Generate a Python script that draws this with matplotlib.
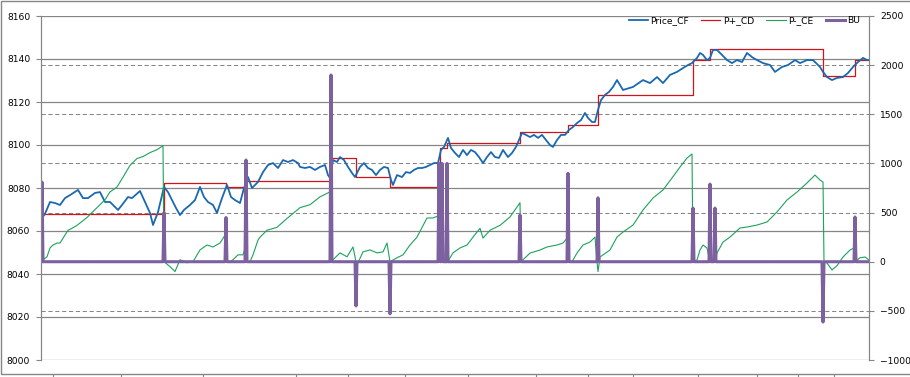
import numpy as np
import matplotlib.pyplot as plt
from matplotlib.patches import Rectangle

# bar index along the x axis
price_x = [0, 1, 4, 9, 14, 19, 24, 29, 37, 42, 47, 54, 59, 64, 69, 77, 81, 87, 91, 99,
           104, 109, 112, 117, 123, 127, 131, 135, 139, 143, 149, 154, 159, 163, 167, 172,
           176, 181, 186, 190, 194, 199, 203, 207, 211, 217, 222, 227, 232, 237, 242, 247,
           252, 257, 259, 264, 269, 274, 279, 284, 287, 289, 292, 296, 299, 303, 307, 311,
           314, 319, 323, 327, 331, 335, 339, 343, 347, 350, 352, 356, 361, 365, 369, 373,
           377, 381, 385, 389, 393, 397, 400, 403, 407, 410, 414, 418, 422, 426, 430, 434,
           438, 442, 446, 450, 454, 458, 462, 467, 471, 475, 478, 481, 485, 489, 493, 497,
           501, 505, 509, 512, 516, 520, 524, 528, 532, 536, 540, 544, 547, 551, 554, 557,
           560, 564, 568, 572, 576, 582, 592, 602, 609, 616, 622, 629, 636, 642, 647, 651,
           656, 659, 662, 666, 669, 672, 676, 681, 686, 691, 696, 701, 706, 711, 716, 722,
           729, 734, 741, 747, 754, 759, 766, 772, 779, 782, 786, 791, 796, 802, 807, 812,
           817, 822, 826, 828]
price_cf = [8058.1, 8066.0, 8068.0, 8073.5, 8073.0, 8072.1, 8075.3, 8076.7, 8079.1, 8075.3,
            8075.3, 8077.7, 8078.1, 8073.5, 8073.5, 8069.8, 8072.1, 8075.8, 8075.3, 8078.6,
            8073.5, 8068.4, 8062.8, 8068.8, 8080.5, 8078.1, 8074.4, 8070.7, 8067.4, 8069.8,
            8072.1, 8074.4, 8080.5, 8075.8, 8073.5, 8072.1, 8068.4, 8075.3, 8081.4, 8075.8,
            8074.4, 8073.0, 8080.0, 8085.1, 8080.0, 8082.8, 8087.4, 8090.7, 8091.6, 8089.3,
            8093.0, 8092.1, 8093.0, 8091.6, 8089.8, 8089.3, 8089.8, 8088.4, 8089.8, 8090.7,
            8086.0, 8084.7, 8093.0, 8092.1, 8094.4, 8093.0, 8089.8, 8087.0, 8085.1, 8089.8,
            8091.6, 8089.3, 8088.4, 8086.0, 8088.4, 8089.8, 8089.3, 8083.7, 8081.4, 8086.0,
            8085.1, 8087.4, 8087.0, 8088.4, 8089.3, 8089.3, 8089.8, 8090.7, 8091.6, 8091.6,
            8097.7, 8099.1, 8103.3, 8098.6, 8096.3, 8094.4, 8097.7, 8095.3, 8097.7, 8096.7,
            8094.4, 8091.6, 8094.4, 8096.7, 8094.4, 8094.0, 8097.7, 8094.4, 8096.3, 8099.1,
            8102.3, 8105.6, 8104.7, 8103.7, 8104.7, 8103.3, 8104.7, 8102.3, 8100.0, 8099.1,
            8102.3, 8104.7, 8104.7, 8107.0, 8108.4, 8110.2, 8111.6, 8114.9, 8112.6, 8110.7,
            8110.7, 8116.3, 8120.9, 8123.3, 8124.7, 8127.0, 8130.2, 8125.6, 8127.0, 8130.2,
            8128.8, 8131.6, 8128.8, 8132.6, 8134.0, 8135.8, 8137.2, 8138.1, 8140.5, 8142.8,
            8141.9, 8139.5, 8140.5, 8144.2, 8144.2, 8141.9, 8139.5, 8138.1, 8139.5, 8138.6,
            8142.8, 8140.9, 8139.5, 8138.1, 8137.2, 8134.0, 8136.3, 8137.2, 8139.5, 8138.1,
            8139.5, 8139.5, 8136.3, 8134.0, 8131.6, 8130.2, 8131.2, 8131.6, 8133.5, 8136.3,
            8138.6, 8140.5, 8139.5, 8139.5]

# P+_CD step levels (level holds from each bar until the next)
cd_x = [2, 123, 185, 205, 290, 315, 349, 399, 406, 479, 527, 557, 652, 669, 782, 814, 828]
p_plus_cd = [8068.0, 8082.3, 8080.5, 8083.3, 8094.0, 8085.1, 8080.5, 8098.6, 8101.0,
             8106.0, 8109.3, 8123.3, 8139.5, 8144.7, 8132.1, 8139.5, 8139.5]

ce_x = [0, 2, 6, 9, 12, 16, 19, 24, 27, 31, 36, 41, 46, 52, 59, 64, 69, 76, 82, 89, 96,
        102, 109, 116, 122, 123, 129, 134, 139, 146, 152, 159, 166, 172, 179, 184, 185,
        189, 192, 197, 202, 205, 206, 209, 212, 217, 219, 226, 236, 246, 259, 269, 279,
        289, 290, 292, 299, 306, 312, 315, 317, 322, 329, 336, 342, 346, 349, 356, 362,
        369, 376, 386, 392, 397, 399, 400, 406, 412, 419, 426, 432, 439, 442, 449, 459,
        469, 476, 479, 480, 489, 499, 506, 516, 522, 526, 527, 531, 536, 542, 549, 554,
        556, 557, 559, 569, 576, 582, 592, 602, 612, 622, 631, 639, 646, 651, 652, 656,
        659, 662, 666, 668, 669, 671, 674, 676, 682, 689, 699, 706, 716, 726, 736, 746,
        756, 766, 774, 779, 782, 783, 786, 791, 796, 802, 809, 813, 814, 819, 824, 828]
p_minus_ce = [0, 20, 50, 140, 170, 190, 190, 270, 320, 340, 370, 410, 450, 510, 580, 630,
              710, 760, 860, 980, 1050, 1070, 1110, 1140, 1180, 0, -50, -100, 20, -10, 0,
              120, 170, 150, 190, 270, 0, 0, 20, 70, 70, 170, 0, 0, 70, 220, 250, 320, 350,
              440, 550, 580, 660, 710, 0, 20, 90, 50, 150, 0, -10, 100, 120, 90, 100, 190,
              0, 40, 70, 170, 250, 445, 445, 465, 465, 0, -10, 90, 140, 170, 250, 340, 240,
              320, 370, 455, 557, 600, 0, 88, 119, 150, 170, 190, 240, 0, 0, 88, 170, 200,
              250, 0, -100, 48, 119, 251, 302, 373, 526, 648, 730, 852, 963, 1055, 1096, 0,
              17, 119, 170, 139, 48, 0, 17, 0, 88, 200, 251, 343, 353, 373, 404, 506, 628,
              709, 801, 882, 831, 811, 0, -13, -84, -40, 48, 119, 139, 0, 40, 48, 17]

# BU: zero except on these bars
bu_bars = [1, 123, 185, 205, 290, 315, 349, 398, 401, 406, 479, 527, 557, 652, 669, 674, 782, 814]
bu_vals = [810, 500, 450, 1035, 1900, -450, -530, 1000, 1000, 1000, 475, 900, 650, 546,
           790, 546, -614, 455]

n_bars = 829
date_ticks = [12, 80, 162, 255, 307, 364, 427, 495, 547, 592, 657, 716, 757, 793]

left_ticks = np.arange(8000, 8161, 20)
right_ticks = np.arange(-1000, 2501, 500)

c_price = "#1a69b0"
c_cd = "#d0141c"
c_ce = "#1ba35a"
c_bu = "#7d619f"
c_grid = "#868686"

plt.rcParams["font.family"] = ["DejaVu Sans"]
fs = 6.6

W, H = 910, 377
fig = plt.figure(figsize=(W / 100, H / 100), dpi=100)
ax = fig.add_axes([41 / W, (H - 360) / H, (869 - 41) / W, (360 - 16) / H])
ax2 = ax.twinx()

ax.set_xlim(0, n_bars - 1)
ax.set_ylim(8000, 8160)
ax2.set_ylim(-1000, 2500)

# gridlines: solid at left ticks, dashed at right ticks (drawn in the back axes)
for t in left_ticks:
    ax.axhline(t, color=c_grid, lw=0.9, zorder=0)
lo, hi = ax.get_ylim()
lo2, hi2 = ax2.get_ylim()
for t in right_ticks[1:-1]:
    ax.axhline(lo + (t - lo2) * (hi - lo) / (hi2 - lo2), color=c_grid, lw=0.75,
               ls=(0, (4, 2.6)), zorder=0)

ax.plot(price_x, price_cf, color=c_price, lw=1.3, label="Price_CF", zorder=3)
ax.plot(cd_x, p_plus_cd, color=c_cd, lw=0.9, drawstyle="steps-post", label="P+_CD", zorder=2)

bu = np.zeros(n_bars)
bu[bu_bars] = bu_vals
ax2.plot(ce_x, p_minus_ce, color=c_ce, lw=0.8, label="P-_CE")
ax2.plot(np.arange(n_bars), bu, color=c_bu, lw=2.2, label="BU")

ax.set_yticks(left_ticks)
ax2.set_yticks(right_ticks)
ax.tick_params(axis="y", labelsize=fs, length=3.6, width=0.8, color=c_grid, pad=4.2)
ax2.tick_params(axis="y", labelsize=fs, length=3.6, width=0.8, color=c_grid, pad=4.2)

for a in (ax, ax2):
    a.spines["top"].set_visible(False)
    a.spines["bottom"].set_visible(False)
    a.spines["left"].set_color(c_grid)
    a.spines["right"].set_color(c_grid)

# date axis below the plot; its labels are cut off in the original
ax.spines["bottom"].set_position(("outward", 10.1))
ax.set_xticks(date_ticks)
ax.tick_params(axis="x", direction="out", length=4, width=0.8, color=c_grid, labelbottom=False)
ax2.tick_params(axis="x", bottom=False, labelbottom=False)

fig.add_artist(Rectangle((1 / W, (H - 374) / H), 912 / W, 373 / H, transform=fig.transFigure,
                         fill=False, ec=c_grid, lw=1.0))

h1, l1 = ax.get_legend_handles_labels()
h2, l2 = ax2.get_legend_handles_labels()
fig.legend(h1 + h2, l1 + l2, loc="center right", bbox_to_anchor=(860 / W, 1 - 20.7 / H),
           ncol=4, frameon=False, fontsize=fs, handlelength=2.1, handletextpad=0.25,
           columnspacing=1.35, borderpad=0, borderaxespad=0)

fig.savefig("out.png", dpi=100)
